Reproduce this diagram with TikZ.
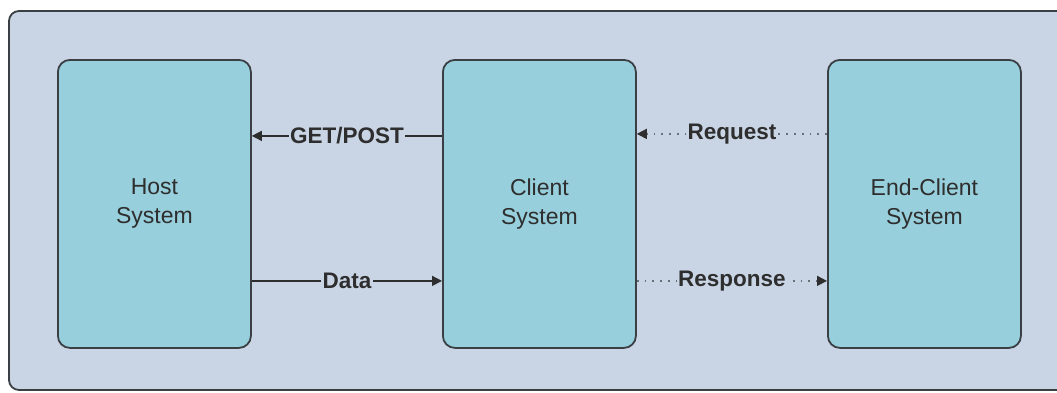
\documentclass[tikz,border=0pt]{standalone}
\usepackage{fontspec}
\setmainfont{Liberation Sans}
\usetikzlibrary{arrows.meta}
\definecolor{panelbg}{HTML}{C9D5E5}
\definecolor{boxbg}{HTML}{97CFDC}
\definecolor{edge}{HTML}{3A3F44}
\definecolor{ink}{HTML}{2E2E2E}
\definecolor{dotink}{HTML}{6A7078}
\begin{document}
\begin{tikzpicture}[x=1pt,y=-1pt,
  sysbox/.style={draw=edge,line width=1.8pt,fill=boxbg,rounded corners=12pt,
    minimum width=193pt,minimum height=288pt,anchor=north west,inner sep=0pt,
    align=center,text=ink,font=\fontsize{23}{29}\selectfont},
  link/.style={draw=ink,line width=1.4pt},
  dotlink/.style={draw=dotink,line width=1.6pt,dash pattern=on 1.8pt off 6pt},
  tip/.style={-{Triangle[length=10pt,width=10pt,color=ink]}},
  lbl/.style={fill=panelbg,inner sep=1.5pt,text=ink,font=\bfseries\fontsize{22.5}{26}\selectfont}]
  \useasboundingbox (0,0) rectangle (1057,392);
  % background panel, running off the right edge
  \draw[draw=edge,line width=1.8pt,fill=panelbg,rounded corners=10pt]
    (9,11) rectangle (1075,390);
  % the three systems
  \node[sysbox] (host) at (57,59) {Host\\System};
  \node[sysbox] (client) at (442,59) {Client\\System};
  \node[sysbox] (end) at (827,59) {End-Client\\System};
  % connector end points on the box sides
  \path (host.east) ++(0,-68) coordinate (hA) (host.east) ++(0,77) coordinate (hB);
  \path (client.west) ++(0,-68) coordinate (cA) (client.west) ++(0,77) coordinate (cB);
  \path (client.east) ++(0,-70) coordinate (cC) (client.east) ++(0,77) coordinate (cD);
  \path (end.west) ++(0,-70) coordinate (eC) (end.west) ++(0,77) coordinate (eD);
  \draw[link,tip] (cA) -- node[lbl] (get) {GET/POST} (hA);
  \draw[link,tip] (hB) -- node[lbl] (data) {Data} (cB);
  \draw[dotlink,tip] (eC) -- node[lbl] (req) {Request} (cC);
  \draw[dotlink,tip] (cD) -- node[lbl] (resp) {Response} (eD);
\end{tikzpicture}
\end{document}
